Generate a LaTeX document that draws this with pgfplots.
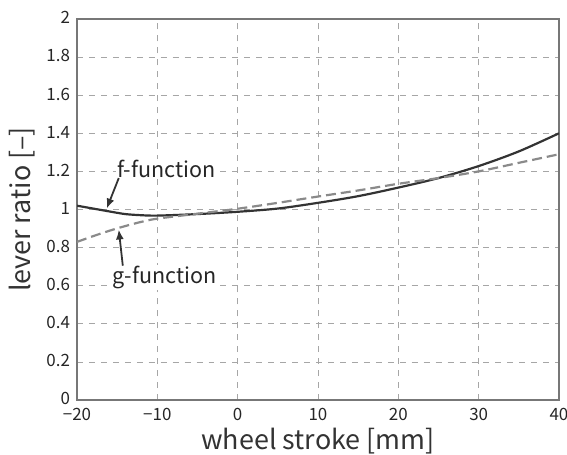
\documentclass[border=0pt]{standalone}
\usepackage{fontspec}
\setmainfont{Noto Sans CJK JP}
\usepackage{pgfplots}
\pgfplotsset{compat=1.18}
\usetikzlibrary{arrows.meta}
\definecolor{fcol}{HTML}{333333}
\definecolor{gcol}{HTML}{8A8A8A}
\definecolor{axcol}{HTML}{777777}
\begin{document}
\begin{tikzpicture}
\useasboundingbox (-38.5bp,-27.5bp) rectangle (245bp,200bp);
\begin{axis}[
  scale only axis,
  width=241bp, height=190.5bp,
  at={(0,0)}, anchor=south west,
  xmin=-20, xmax=40, ymin=0, ymax=2,
  xtick={-20,-10,...,40},
  xticklabels={−20,−10,0,10,20,30,40},
  ytick={0,0.2,...,2.01},
  yticklabel style={/pgf/number format/fixed},
  /pgf/number format/assume math mode=true,
  tick label style={font=\fontsize{8.5}{9}\selectfont, text=black!85},
  xticklabel style={yshift=-0.8pt},
  yticklabel style={yshift=0.6pt},
  grid=major,
  major grid style={dashed, gray!70, line width=0.4pt},
  axis line style={axcol, line width=0.6pt},
  tick style={draw=none},
  xlabel={wheel stroke [mm]},
  ylabel={lever ratio [–]},
  label style={font=\fontsize{13.5}{14}\selectfont, text=black!80},
  xlabel style={yshift=3.5pt},
  ylabel style={yshift=-1pt},
]
\addplot[fcol, line width=1.1pt, smooth] coordinates {
(-20,1.02) (-18,1.005) (-16,0.99) (-14,0.976) (-12,0.97) (-10,0.968) (-5,0.976) (0,0.988) (5,1.005) (10,1.035) (15,1.07) (20,1.115) (25,1.165) (30,1.228) (35,1.305) (40,1.40)
};
\addplot[gcol, line width=1.1pt, dashed, dash pattern=on 5pt off 2.5pt, smooth] coordinates {
(-20,0.83) (-18,0.86) (-16,0.888) (-14,0.913) (-12,0.935) (-10,0.952) (-5,0.978) (0,1.004) (5,1.035) (10,1.068) (15,1.10) (20,1.135) (25,1.165) (30,1.20) (35,1.245) (40,1.29)
};
\node[font=\fontsize{10.8}{11}\selectfont, text=black!85, fill=white, inner sep=0.5pt] at (axis cs:-8.9,1.215) {f-function};
\node[font=\fontsize{10.8}{11}\selectfont, text=black!85, fill=white, inner sep=0.5pt] at (axis cs:-9.1,0.645) {g-function};
\draw[-{Latex[length=5pt,width=4pt]}, line width=0.9pt, black!80] (axis cs:-14.8,1.165) -- (axis cs:-16.3,1.005);
\draw[-{Latex[length=5pt,width=4pt]}, line width=0.9pt, black!80] (axis cs:-14.3,0.705) -- (axis cs:-14.8,0.895);
\end{axis}
\end{tikzpicture}
\end{document}
